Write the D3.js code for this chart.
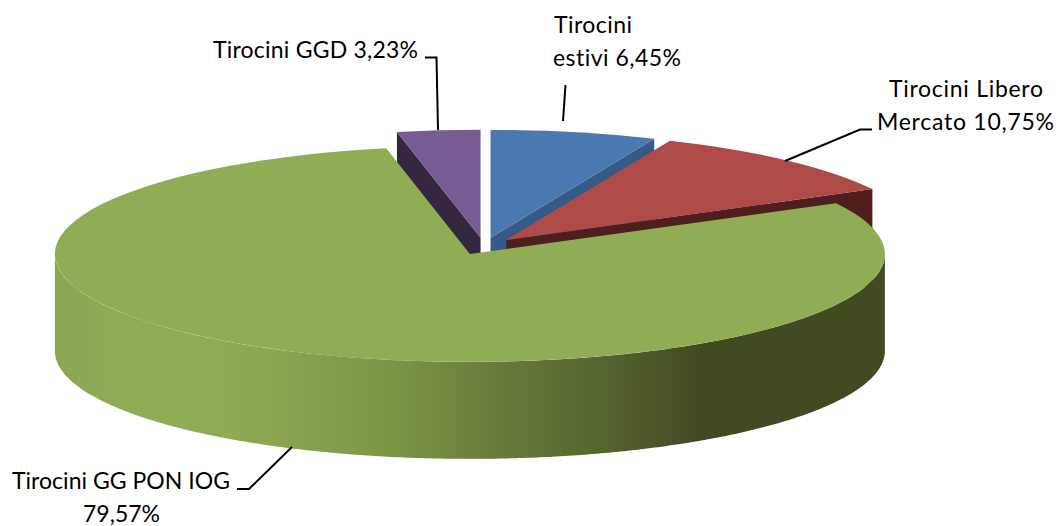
<!DOCTYPE html>
<html><head><meta charset="utf-8">
<script src="https://cdn.jsdelivr.net/npm/d3@7"></script>
<style>html,body{margin:0;background:#fff}svg{display:block}text{font-variant-ligatures:none}</style></head>
<body><svg id="c" width="1059" height="526"></svg>
<script>
const categories = ["Tirocini estivi","Tirocini Libero Mercato","Tirocini GG PON IOG","Tirocini GGD"];
const values = [6.45,10.75,79.57,3.23];
const topColors = ["#4a78b0","#ae4a47","#90ad55","#775b95"];
const faceColors = ["#355a88","#4f1f1e","#5d7036","#33283f"];
const labelLines = [["Tirocini","estivi 6,45%"],["Tirocini Libero","Mercato 10,75%"],["Tirocini GG PON IOG","79,57%"],["Tirocini GGD 3,23%"]];

const W=1059,H=526, cx=483.9, cy=246.2, R=415, tilt=0.26, depth=97, explode=33;
const svg=d3.select("#c");
const pie=d3.pie().sort(null).value(d=>d)(values);
const arc=d3.arc().innerRadius(0).outerRadius(R);
const apex=d=>{const m=(d.startAngle+d.endAngle)/2;return [cx+explode*Math.sin(m),cy-explode*Math.cos(m)*tilt];};
const rim=(c,a)=>[c[0]+R*Math.sin(a),c[1]-R*Math.cos(a)*tilt];

const defs=svg.append("defs");
const grad=defs.append("linearGradient").attr("id","wall").attr("gradientUnits","userSpaceOnUse")
  .attr("x1",55).attr("x2",885).attr("y1",0).attr("y2",0);
[[0,"#8ba553"],[0.08,"#90ac56"],[0.2,"#8fab55"],[0.28,"#8aa350"],[0.415,"#7a9445"],[0.51,"#6c7f3c"],[0.657,"#556530"],[0.777,"#404b22"],[1,"#404b22"]]
  .forEach(s=>grad.append("stop").attr("offset",s[0]).attr("stop-color",s[1]));

function radialFace(d,a,color){
  const c=apex(d),e=rim(c,a);
  svg.append("path").attr("fill",color).attr("d",
    d3.line()([c,e,[e[0],e[1]+depth],[c[0],c[1]+depth]])+"Z");
}
function topFace(d,color){
  const c=apex(d);
  svg.append("path").attr("fill",color).attr("d",arc(d))
    .attr("transform",`translate(${c[0]},${c[1]}) scale(1,${tilt})`);
}
const [blue,red,green,purple]=pie;
radialFace(purple,purple.startAngle,faceColors[3]);
topFace(purple,topColors[3]);
radialFace(blue,blue.endAngle,faceColors[0]);
topFace(blue,topColors[0]);
radialFace(red,red.endAngle,faceColors[1]);
topFace(red,topColors[1]);

const gc=apex(green);
const wallAngles=d3.range(Math.PI/2,Math.PI*1.5+0.001,0.01);
svg.append("path").attr("fill","url(#wall)").attr("d",
  d3.area().x(a=>rim(gc,a)[0]).y0(a=>rim(gc,a)[1]).y1(a=>rim(gc,a)[1]+depth)(wallAngles));
topFace(green,topColors[2]);

const leaders=[
 [[563,121],[565.5,85]],
 [[785,161],[860,129.5],[872,129.5]],
 [[292,447],[249,489],[237,489]],
 [[438,130],[436.5,57.5],[425,57.5]]];
leaders.forEach(l=>svg.append("path").attr("d",d3.line()(l)).attr("fill","none").attr("stroke","#000").attr("stroke-width",2));

const labelPos=[
 {x:[554,553],y:[33,66],w:[78,128]},
 {x:[889,877],y:[97,129.5],w:[154,177]},
 {x:[12,83],y:[489,521.5],w:[218,77]},
 {x:[213],y:[57.5],w:[205]}];
labelLines.forEach((ls,i)=>ls.forEach((t,j)=>svg.append("text").text(t)
  .attr("x",labelPos[i].x[j]).attr("y",labelPos[i].y[j])
  .attr("textLength",labelPos[i].w[j]).attr("lengthAdjust","spacing")
  .attr("font-family","Lato, sans-serif").attr("font-size",23).attr("fill","#000")));
</script></body></html>
